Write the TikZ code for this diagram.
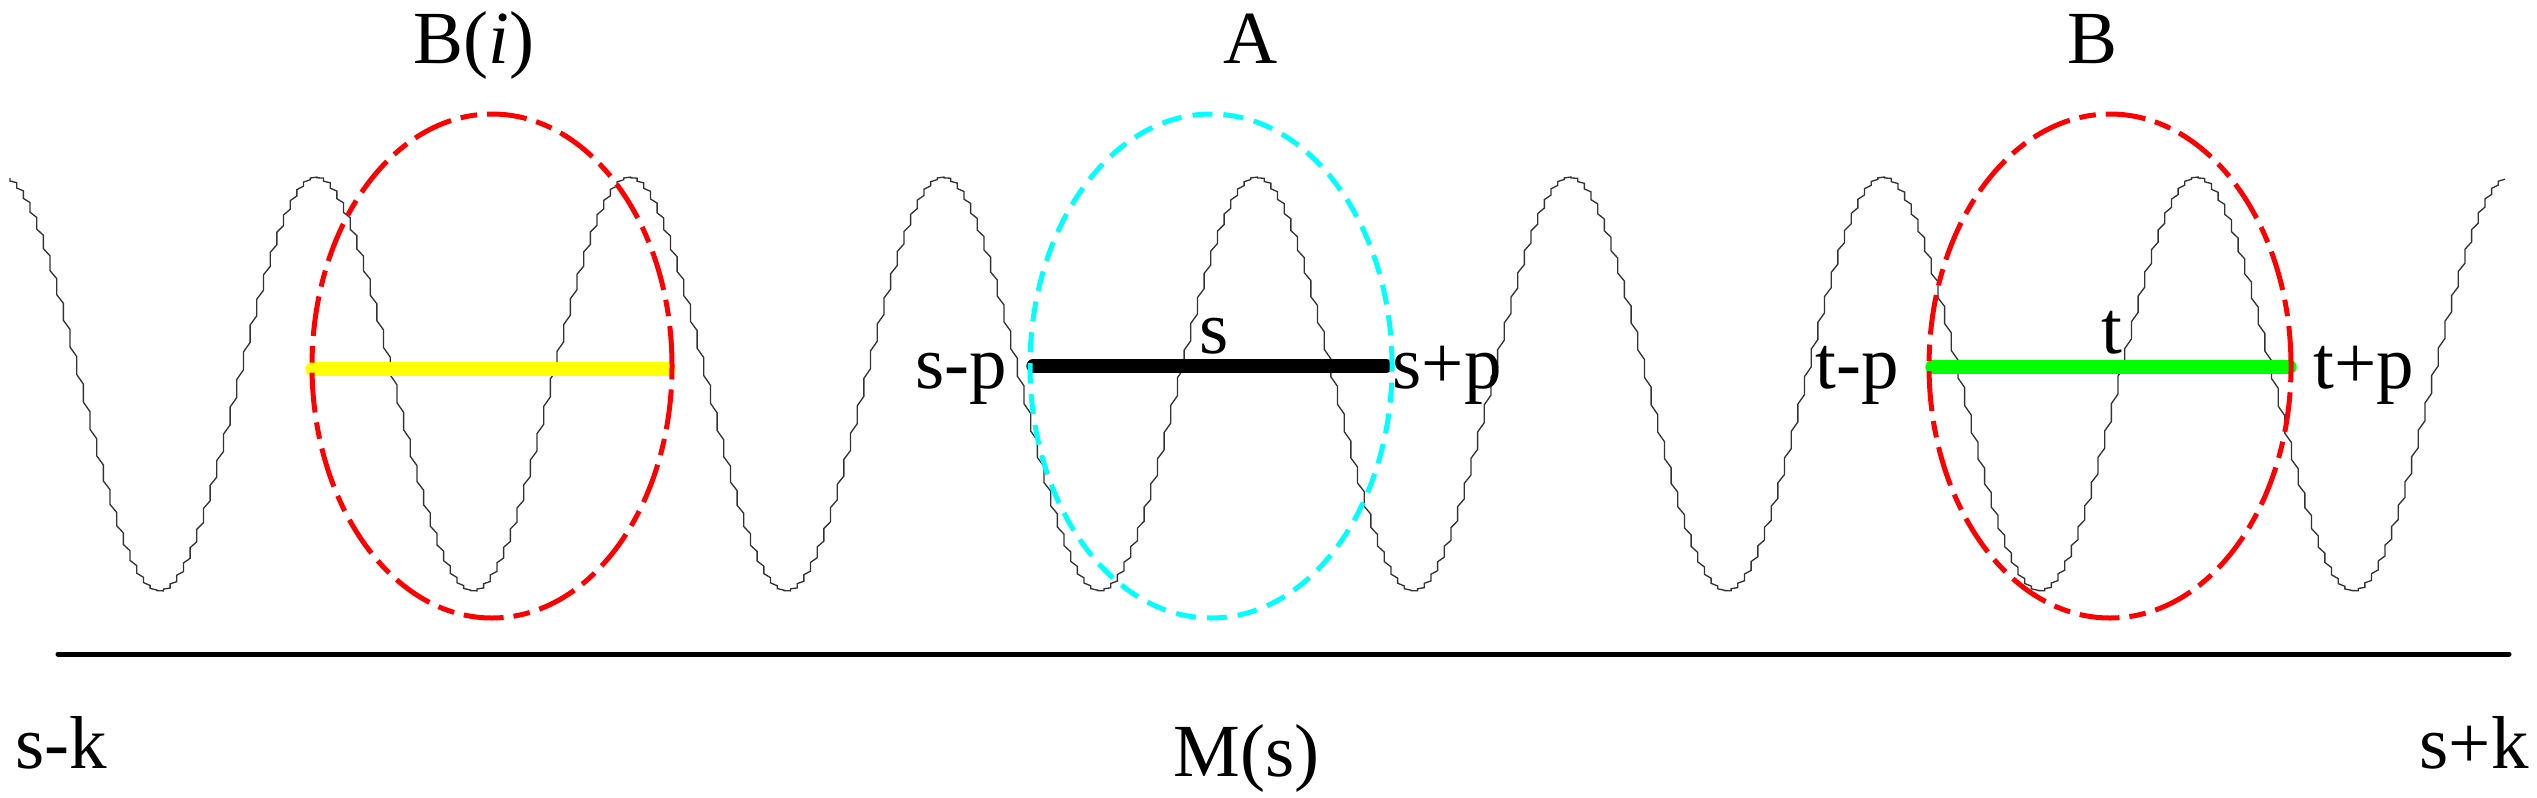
\documentclass[tikz,border=0pt]{standalone}
\usepackage{fontspec}
\setmainfont{Liberation Serif}
\definecolor{cy}{RGB}{0,255,255}
\definecolor{ye}{RGB}{255,255,0}
\definecolor{gr}{RGB}{0,255,0}
\definecolor{rd}{RGB}{255,0,0}
\begin{document}
\begin{tikzpicture}[x=0.3pt,y=-0.3pt,
  lbl/.style={font=\fontsize{22.5}{27}\selectfont, inner sep=0pt, anchor=base west},
  wave/.style={draw=black!80, line width=0.4pt, line join=miter},
  bar/.style={line width=4pt, line cap=round},
  redell/.style={draw=rd, line width=1.5pt, dash pattern=on 12pt off 3pt on 5pt off 3pt},
  cyanell/.style={draw=cy, line width=1.5pt, dash pattern=on 6pt off 3.3pt},
  axis/.style={line width=1.5pt, line cap=round}]
\useasboundingbox (0,0) rectangle (2537,797);

% wave (stair-stepped sampled sinusoid)
\draw[wave] (10,{384-207*cos(1.14869*(10-5))})
  \foreach \i in {0,...,373} {
    -- ({10+\i*6.671},{384-207*(0.35*cos(1.14869*(5+\i*6.671))+0.65*cos(1.14869*(5+(\i+1)*6.671)))})
    -- ({10+(\i+1)*6.671},{384-207*cos(1.14869*(5+(\i+1)*6.671))})
  };

% bar end points
\coordinate (y1) at (312,369);
\coordinate (y2) at (669,369);
\coordinate (k1) at (1033,366);
\coordinate (k2) at (1386,366);
\coordinate (g1) at (1932,367);
\coordinate (g2) at (2290,367);
\coordinate (ax1) at (58,654);
\coordinate (ax2) at (2509,654);

\draw[bar, ye] (y1) -- (y2);
\draw[bar, black] (k1) -- (k2);
\draw[bar, gr] (g1) -- (g2);

% ellipses
\coordinate (cBi) at (492,366);
\coordinate (cA) at (1211,366);
\coordinate (cB) at (2110,366);
\draw[redell] (cBi) ellipse [x radius=54pt, y radius=75.6pt];
\draw[cyanell] (cA) ellipse [x radius=54.3pt, y radius=75.6pt];
\draw[redell] (cB) ellipse [x radius=54.3pt, y radius=75.6pt];

% axis
\draw[axis] (ax1) -- (ax2);

% labels
\node[lbl] (Bi) at (413,63) {B(\textit{i})};
\node[lbl] (A) at (1223,63) {A};
\node[lbl] (B) at (2067,63) {B};
\node[lbl] (sm) at (915,388) {s-p};
\node[lbl] (s) at (1199,353) {s};
\node[lbl] (sp) at (1392,388) {s+p};
\node[lbl] (tm) at (1815,388) {t-p};
\node[lbl] (t) at (2101,353) {t};
\node[lbl] (tp) at (2313,388) {t+p};
\node[lbl] (sk1) at (15,768) {s-k};
\node[lbl] (M) at (1173,776) {M(s)};
\node[lbl] (sk2) at (2419,768) {s+k};
\end{tikzpicture}
\end{document}
